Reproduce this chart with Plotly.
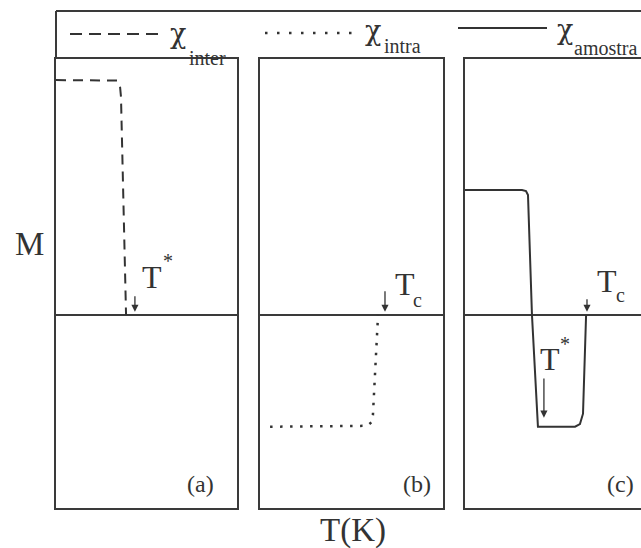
import plotly.graph_objects as go

W, H = 641, 548

# ---- data: magnetisation M versus temperature (arbitrary units) ----
# (a) inter-grain contribution, dashed
temp_inter = [0.0, 3.0, 3.37, 3.48, 3.54, 3.59, 3.87]
m_inter = [5.23, 5.23, 5.22, 5.17, 5.08, 4.86, 0.0]

# (b) intra-grain contribution, dotted
temp_intra = [0.55, 5.85, 6.12, 6.17, 6.45]
m_intra = [-2.49, -2.47, -2.38, -2.23, 0.0]

# (c) total response of the sample, solid
temp_sample = [0.0, 3.15, 3.37, 3.48, 3.70, 4.03, 6.08, 6.35, 6.52, 6.69]
m_sample = [2.78, 2.78, 2.76, 2.67, 0.0, -2.49, -2.49, -2.43, -2.20, 0.0]

# characteristic temperatures marked with arrows
t_star_a = 4.36
t_c_b = 6.83
t_c_c = 6.74
t_star_c = 4.36

panel_labels = ["(a)", "(b)", "(c)"]
legend_names = ["inter", "intra", "amostra"]

INK = "#333333"
FRAME = "#3a3a3a"
SERIF = "Liberation Serif, Times New Roman, serif"
GREEK = "DejaVu Serif, serif"


def px(x):
    return x / W


def py(y):
    return 1 - y / H


fig = go.Figure()

fig.add_trace(go.Scatter(x=temp_inter, y=m_inter, mode="lines", xaxis="x", yaxis="y",
                         line=dict(color=INK, width=2, dash="10px,7px"), showlegend=False))
fig.add_trace(go.Scatter(x=temp_intra, y=m_intra, mode="lines", xaxis="x2", yaxis="y2",
                         line=dict(color=INK, width=2.5, dash="2.5px,7.5px"), showlegend=False))
fig.add_trace(go.Scatter(x=temp_sample, y=m_sample, mode="lines", xaxis="x3", yaxis="y3",
                         line=dict(color=INK, width=2), showlegend=False))

ydom = [py(508), py(59)]
xdoms = [[px(56), px(237)], [px(260), px(443)], [px(465), 1.0]]
xranges = [[0, 10], [0, 10], [0, 176 / 18.1]]
yrange = [-4.3, 5.7]


def xax(dom, rng, anchor):
    return dict(domain=dom, range=rng, anchor=anchor, showgrid=False, zeroline=False,
                showticklabels=False, ticks="", showline=True, mirror=True,
                linecolor=FRAME, linewidth=2, fixedrange=True)


def yax(rng, anchor, mirror=True):
    return dict(domain=ydom, range=rng, anchor=anchor, showgrid=False, zeroline=True,
                zerolinecolor=FRAME, zerolinewidth=2, showticklabels=False, ticks="",
                showline=True, mirror=mirror, linecolor=FRAME, linewidth=2, fixedrange=True)


shapes = [
    # legend frame (open at the bottom, where the panels begin)
    dict(type="line", xref="paper", yref="paper", x0=px(56), x1=px(641), y0=py(11), y1=py(11),
         line=dict(color=FRAME, width=2)),
    dict(type="line", xref="paper", yref="paper", x0=px(56), x1=px(56), y0=py(11), y1=py(59),
         line=dict(color=FRAME, width=2)),
    # legend samples
    dict(type="line", xref="paper", yref="paper", x0=px(70), x1=px(158), y0=py(34), y1=py(34),
         line=dict(color=INK, width=2, dash="12px,7px")),
    dict(type="line", xref="paper", yref="paper", x0=px(265), x1=px(352), y0=py(33), y1=py(33),
         line=dict(color=INK, width=2.5, dash="2.5px,9.5px")),
    dict(type="line", xref="paper", yref="paper", x0=px(458), x1=px(547), y0=py(28), y1=py(28),
         line=dict(color=INK, width=2)),
]

annotations = []


def text(x, y, s, size, xanchor="left", family=SERIF):
    annotations.append(dict(x=x, y=y, xref="paper", yref="paper", text=s, showarrow=False,
                            xanchor=xanchor, yanchor="middle",
                            font=dict(family=family, size=size, color=INK)))


# legend entries: chi with its subscript
chi_pos = [(168, 34, 187, 58.3), (363, 31, 382, 46.3), (555, 29, 572, 48.3)]
for (cx, cy, sx, sy), name in zip(chi_pos, legend_names):
    text(px(cx), py(cy), "χ", 27, family=GREEK)
    text(px(sx), py(sy), name, 20)

# axis titles
text(px(29), py(244), "M", 33, xanchor="center")
text(px(353), py(530), "T(K)", 33, xanchor="center")

# panel tags
for lab, cx in zip(panel_labels, [200, 417, 620]):
    text(px(cx), py(483.6), lab, 24, xanchor="center")

# T* and Tc labels
text(px(140), py(277.2), "T", 32)
text(px(161), py(261.3), "*", 20)
text(px(393), py(284.2), "T", 32)
text(px(411), py(300.3), "c", 20)
text(px(595), py(281.2), "T", 32)
text(px(614), py(295.3), "c", 20)
text(px(538), py(359.2), "T", 32)
text(px(558), py(344.3), "*", 20)


def arrow(xa, ya, t, tail, tip):
    annotations.append(dict(x=t, y=tip, ax=t, ay=tail, xref=xa, yref=ya, axref=xa, ayref=ya,
                            text="", showarrow=True, arrowhead=2, arrowsize=1.1,
                            arrowwidth=1.3, arrowcolor=INK, standoff=0, startstandoff=0))


arrow("x", "y", t_star_a, 0.45, 0.07)
arrow("x2", "y2", t_c_b, 0.56, 0.07)
arrow("x3", "y3", t_c_c, 0.38, 0.07)
arrow("x3", "y3", t_star_c, -1.38, -2.29)

fig.update_layout(
    width=W, height=H,
    margin=dict(l=0, r=0, t=0, b=0),
    paper_bgcolor="white", plot_bgcolor="white",
    xaxis=xax(xdoms[0], xranges[0], "y"),
    xaxis2=xax(xdoms[1], xranges[1], "y2"),
    xaxis3=xax(xdoms[2], xranges[2], "y3"),
    yaxis=yax(yrange, "x"),
    yaxis2=yax(yrange, "x2"),
    yaxis3=yax(yrange, "x3", mirror=False),
    shapes=shapes,
    annotations=annotations,
    showlegend=False,
)

fig.write_html("out.html", config={"displayModeBar": False})
